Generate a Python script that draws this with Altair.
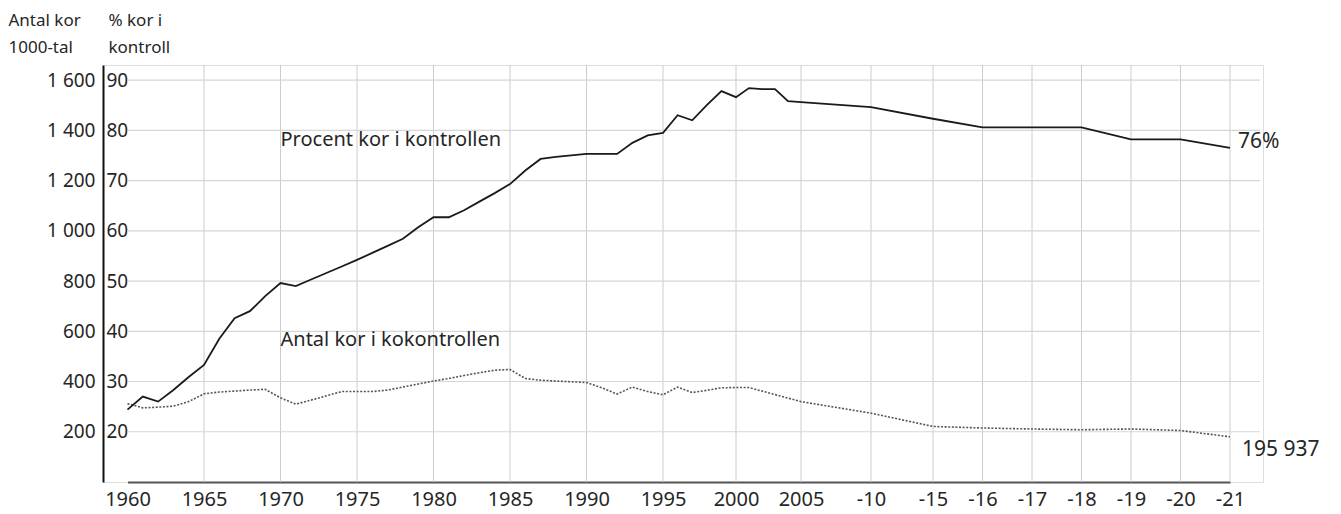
import altair as alt
import pandas as pd

# ---- data ----
YEARS = [1960, 1961, 1962, 1963, 1964, 1965, 1966, 1967, 1968, 1969,
         1970, 1971, 1972, 1973, 1974, 1975, 1976, 1977, 1978, 1979,
         1980, 1981, 1982, 1983, 1984, 1985, 1986, 1987, 1988, 1989,
         1990, 1991, 1992, 1993, 1994, 1995, 1996, 1997, 1998, 1999,
         2000, 2001, 2002, 2003, 2004, 2005,
         2010, 2015, 2016, 2017, 2018, 2019, 2020, 2021]

# Procent kor i kontrollen (%)
PCT = [24.4, 27.0, 26.0, 28.3, 30.9, 33.3, 38.5, 42.6, 44.0, 47.0,
       49.6, 49.0, 50.3, 51.6, 52.9, 54.2, 55.6, 57.0, 58.4, 60.7,
       62.7, 62.7, 64.1, 65.8, 67.5, 69.3, 72.0, 74.3, 74.7, 75.0,
       75.3, 75.3, 75.3, 77.5, 79.0, 79.5, 83.0, 82.0, 85.0, 87.8,
       86.6, 88.4, 88.2, 88.2, 85.8, 85.6,
       84.6, 82.3, 80.6, 80.6, 80.6, 78.2, 78.2, 76.5]

# Antal kor i kokontrollen (1000-tal)
COUNT = [312, 295, 298, 302, 320, 351, 358, 362, 366, 369,
         335, 310, 326, 343, 360, 360, 360, 366, 378, 390,
         402, 412, 424, 435, 445, 448, 412, 405, 402, 399,
         396, 375, 350, 378, 360, 347, 378, 356, 365, 375,
         376, 376, 362, 348, 334, 320,
         274, 221, 215, 211, 208, 211, 205, 180]

TICK_YEARS = [1960, 1965, 1970, 1975, 1980, 1985, 1990, 1995, 2000, 2005,
              2010, 2015, 2016, 2017, 2018, 2019, 2020, 2021]
PCT_TICKS = [20, 30, 40, 50, 60, 70, 80, 90]
COUNT_TICKS = [200, 400, 600, 800, 1000, 1200, 1400, 1600]

LINE_LABELS = ["Procent kor i kontrollen", "Antal kor i kokontrollen"]
END_LABELS = ["76%", "195 937"]

# uneven spacing of the original category axis (piecewise x scale)
X_BREAKS = [1960, 1995, 2000, 2005, 2010, 2015, 2021]
X_RANGE = [24.5, 560, 633, 698, 768, 830, 1127]

W, H = 1160, 417
FONT = "Noto Sans"
TXT = "#262626"

df = pd.DataFrame({"year": YEARS, "pct": PCT, "count": COUNT})

xscale = alt.Scale(domain=X_BREAKS, range=X_RANGE, zero=False, nice=False)
xaxis = alt.Axis(
    values=TICK_YEARS,
    labelExpr="datum.value <= 2005 ? toString(datum.value) : '-' + substring(toString(datum.value), 2, 4)",
    title=None, grid=False, ticks=False, domain=True, domainColor="#555555",
    domainWidth=2, labelPadding=7, labelFontSize=20, labelFont=FONT,
    labelColor=TXT, labelOverlap=False, labelFlush=False,
)
x_enc = alt.X("year:Q", scale=xscale, axis=xaxis)

pct_scale = alt.Scale(domain=[10, 93], zero=False, nice=False)
count_scale = alt.Scale(domain=[0, 1660], zero=False, nice=False)

pct_axis = alt.Axis(
    orient="left", values=PCT_TICKS, grid=False, ticks=False, domain=False,
    labelAlign="left", labelBaseline="middle", labelPadding=-3,
    labelFontSize=19, labelFont=FONT, labelColor=TXT,
    title=["% kor i", "kontroll"], titleAngle=0, titleAlign="left",
    titleBaseline="top", titleX=5, titleY=-53, titleFontSize=17,
    titleFontWeight="normal", titleFont=FONT, titleColor=TXT, titleLineHeight=27,
)
count_axis = alt.Axis(
    orient="left", values=COUNT_TICKS,
    labelExpr="replace(format(datum.value, ','), ',', ' ')",
    grid=False, ticks=False, domain=True, domainColor="#111111", domainWidth=2,
    labelPadding=8, labelBaseline="middle", labelFontSize=19, labelFont=FONT,
    labelColor=TXT,
    title=["Antal kor", "1000-tal"], titleAngle=0, titleAlign="left",
    titleBaseline="top", titleX=-95, titleY=-53, titleFontSize=17,
    titleFontWeight="normal", titleFont=FONT, titleColor=TXT, titleLineHeight=27,
)

vgrid = alt.Chart(pd.DataFrame({"year": TICK_YEARS[1:]})).mark_rule(
    color="#cccccc", strokeWidth=1
).encode(x=x_enc)

hgrid = alt.Chart(pd.DataFrame({"pct": PCT_TICKS})).mark_rule(
    color="#d6d6d6", strokeWidth=1.2
).encode(
    y=alt.Y("pct:Q", scale=pct_scale, axis=None),
    x=alt.X(datum=YEARS[0], type="quantitative", scale=xscale, axis=xaxis),
    x2=alt.value(W - 3),
)

pct_line = alt.Chart(df).mark_line(color="#1a1a1a", strokeWidth=1.8).encode(
    x=x_enc, y=alt.Y("pct:Q", scale=pct_scale, axis=pct_axis)
)

count_line = alt.Chart(df).mark_line(
    color="#555555", strokeWidth=1.6, strokeDash=[2, 1.6]
).encode(
    x=x_enc, y=alt.Y("count:Q", scale=count_scale, axis=count_axis)
)

pct_text = alt.Chart(pd.DataFrame({"year": [1970], "pct": [78.0], "t": [LINE_LABELS[0]]})).mark_text(
    align="left", baseline="middle", fontSize=20, font=FONT, color=TXT
).encode(x=x_enc, y=alt.Y("pct:Q", scale=pct_scale, axis=None), text="t:N")

count_text = alt.Chart(pd.DataFrame({"year": [1970], "count": [566], "t": [LINE_LABELS[1]]})).mark_text(
    align="left", baseline="middle", fontSize=20, font=FONT, color=TXT
).encode(x=x_enc, y=alt.Y("count:Q", scale=count_scale, axis=None), text="t:N")

end_pct = alt.Chart(pd.DataFrame({"year": [YEARS[-1]], "pct": [PCT[-1]], "t": [END_LABELS[0]]})).mark_text(
    align="left", baseline="middle", fontSize=21, font=FONT, color=TXT, dx=8, dy=-6
).encode(x=x_enc, y=alt.Y("pct:Q", scale=pct_scale, axis=None), text="t:N")

end_count = alt.Chart(pd.DataFrame({"year": [YEARS[-1]], "count": [COUNT[-1]], "t": [END_LABELS[1]]})).mark_text(
    align="left", baseline="middle", fontSize=21, font=FONT, color=TXT, dx=12, dy=13
).encode(x=x_enc, y=alt.Y("count:Q", scale=count_scale, axis=None), text="t:N")

chart = alt.layer(
    vgrid, hgrid, count_line, pct_line, pct_text, count_text, end_pct, end_count
).resolve_scale(y="independent").properties(
    width=W, height=H,
    padding={"left": 95, "top": 57, "right": 62, "bottom": 28},
    autosize=alt.AutoSizeParams(type="none"),
    background="white",
).configure_view(stroke=None).configure(font=FONT)

chart.save("out.html", embed_options={"renderer": "svg", "actions": False})
